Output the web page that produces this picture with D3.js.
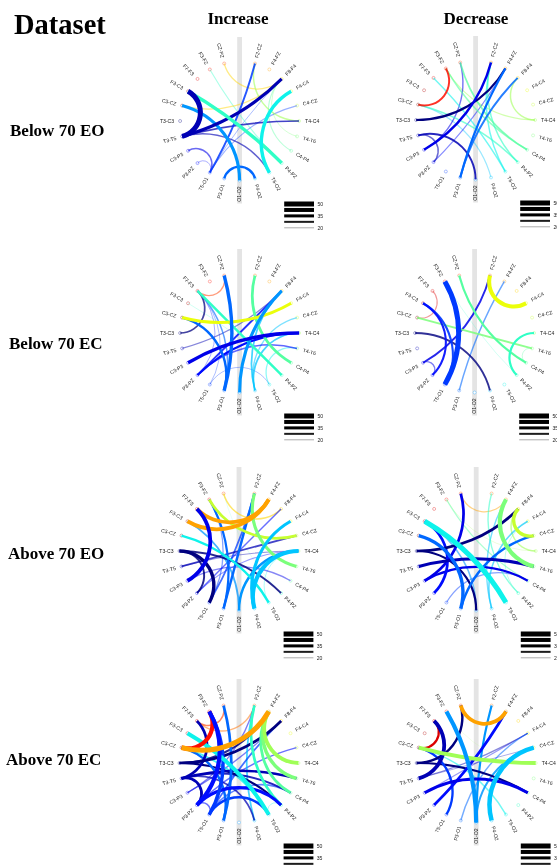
<!DOCTYPE html>
<html><head><meta charset="utf-8">
<script src="https://cdn.jsdelivr.net/npm/d3@7/dist/d3.min.js"></script>
<style>html,body{margin:0;padding:0;background:#fff;overflow:hidden}svg{display:block;will-change:transform}</style>
</head><body>
<svg id="c" width="557" height="868"></svg>
<script>
// clockwise from just right of the top gap
const channels=["F2-CZ","F4-FZ","F8-F4","F4-C4","C4-CZ","T4-C4","T4-T6","C4-P4","P4-PZ","T6-O2","P4-O2","O1-O2","P3-O1","T5-O1","P3-PZ","C3-P3","T3-T5","T3-C3","C3-CZ","F3-C3","F7-F3","F3-FZ","CZ-PZ"];
const legendValues=[50,42.5,35,27.5,20];
const legendLabels=["50","","35","","20"];
const rowLabels=["Below 70 EO","Below 70 EC","Above 70 EO","Above 70 EC"];
const columnLabels=["Increase","Decrease"];

const below70EOIncrease=[["CZ-PZ","F8-F4",22],["C3-CZ","F8-F4",22],["F3-FZ","P4-PZ",21],["F3-C3","P4-PZ",38],["C3-CZ","O1-O2",36],["F3-C3","T3-T5",50],["T3-T5","F8-F4",36],["T3-T5","T4-C4",25.5],["T3-T5","T6-O2",24],["C3-P3","T5-O1",23.5],["P3-PZ","T5-O1",20],["F2-CZ","T5-O1",27],["T5-O1","F8-F4",20],["T5-O1","C4-CZ",21],["P3-O1","P4-O2",30],["T6-O2","F4-C4",38],["F2-CZ","T4-C4",23.5],["F8-F4","C4-P4",21],["F8-F4","T4-T6",20]];
const below70EODecrease=[["F3-FZ","C3-CZ",27],["CZ-PZ","C3-P3",23],["CZ-PZ","C4-P4",25.5],["F3-FZ","C4-P4",24],["F3-FZ","T4-C4",22],["F7-F3","T6-O2",23.5],["C3-CZ","P4-PZ",24],["F2-CZ","P4-PZ",24],["F2-CZ","T6-O2",23.5],["F2-CZ","C3-P3",31],["F4-FZ","T3-C3",29],["F4-FZ","P3-PZ",22],["F4-FZ","P3-O1",29],["F8-F4","T4-C4",23.5],["F8-F4","P3-O1",27],["T3-T5","O1-O2",27],["T3-T5","P3-PZ",23.5],["C3-CZ","P4-O2",21]];
const below70ECIncrease=[["F7-F3","CZ-PZ",22.5],["CZ-PZ","P3-O1",38],["F2-CZ","C4-P4",33],["F3-C3","P4-PZ",19],["C3-CZ","F4-C4",36],["F7-F3","T3-C3",25.5],["F7-F3","P4-PZ",31],["F7-F3","P3-O1",24],["F7-F3","T5-O1",20],["F7-F3","P3-PZ",20],["C3-CZ","P3-O1",31],["T3-T5","F8-F4",22],["F8-F4","P3-PZ",27],["F8-F4","O1-O2",36],["F8-F4","P4-O2",25.5],["C4-CZ","P4-O2",22.5],["T4-C4","C3-P3",38],["T4-C4","P3-PZ",29],["T4-C4","P4-O2",25.5],["T4-T6","P3-PZ",24],["T4-T6","T6-O2",22],["T5-O1","T6-O2",20]];
const below70ECDecrease=[["F7-F3","C3-CZ",21],["F3-C3","T5-O1",28],["F3-FZ","T5-O1",50],["CZ-PZ","C4-P4",29],["F2-CZ","F4-C4",43],["F2-CZ","C3-P3",27],["F4-FZ","P3-O1",23.5],["C3-CZ","T4-T6",27],["F3-FZ","P4-PZ",19],["T4-C4","P4-PZ",29],["T4-T6","C4-P4",20],["T3-C3","P4-O2",26.5],["P3-PZ","C3-P3",22.5],["F3-C3","P3-PZ",28]];
const above70EOIncrease=[["CZ-PZ","F8-F4",23.5],["F7-F3","F4-FZ",41],["F3-C3","F4-FZ",41],["F3-FZ","C4-CZ",33],["F2-CZ","T4-T6",36],["F2-CZ","P3-O1",31],["F2-CZ","T5-O1",25.5],["F4-C4","P4-O2",36],["T4-C4","P4-O2",44],["T4-C4","O1-O2",31],["T4-C4","T6-O2",20],["F8-F4","P3-PZ",23.5],["C4-CZ","T3-T5",25.5],["T4-C4","T3-T5",21],["F7-F3","C3-P3",41],["T3-C3","T5-O1",38],["T3-C3","P4-PZ",27],["T3-C3","P3-PZ",27],["C3-CZ","T6-O2",31],["F3-FZ","P3-O1",29],["F3-C3","O1-O2",25.5],["P3-PZ","T4-C4",21],["C3-P3","C4-P4",22],["F3-FZ","T5-O1",22],["CZ-PZ","P4-PZ",18]];
const above70EODecrease=[["CZ-PZ","F4-FZ",22],["CZ-PZ","C3-P3",33],["F3-FZ","C4-P4",22],["F3-C3","T6-O2",50],["F3-C3","P3-PZ",33],["C3-CZ","P3-O1",38],["T3-C3","F8-F4",33],["T3-C3","O1-O2",29],["T3-T5","T4-T6",36],["C3-P3","C4-P4",29],["F8-F4","C4-CZ",38],["F8-F4","T4-C4",23.5],["F4-FZ","T4-T6",44],["F4-FZ","P4-O2",23],["F2-CZ","P4-PZ",23],["C4-CZ","P3-O1",31],["F4-C4","P4-O2",24],["F3-C3","O1-O2",23.5],["T5-O1","C4-P4",22],["F4-C4","P4-PZ",20],["F3-FZ","T4-C4",19]];
const above70ECIncrease=[["C3-CZ","F3-FZ",44],["F7-F3","CZ-PZ",24],["C3-CZ","F4-FZ",50],["F7-F3","F2-CZ",22.5],["F3-C3","T6-O2",43],["C3-CZ","T6-O2",25.5],["F3-FZ","P3-PZ",44],["F3-FZ","T5-O1",38],["F7-F3","T3-T5",33],["CZ-PZ","P3-O1",33],["C3-CZ","P3-O1",31],["T3-C3","F8-F4",33],["T3-C3","F4-FZ",27],["T3-C3","P4-PZ",29],["T3-T5","T4-T6",31],["T3-T5","P3-PZ",33],["T3-T5","C4-P4",27],["F2-CZ","P4-PZ",33],["F2-CZ","C3-P3",22.5],["F2-CZ","P4-O2",25.5],["F4-FZ","T4-T6",38],["F4-FZ","C4-P4",33],["F4-FZ","T4-C4",41],["C4-CZ","P3-PZ",23.5],["F8-F4","T5-O1",25.5],["P3-PZ","P4-PZ",36],["T5-O1","T6-O2",31],["P3-PZ","T5-O1",23.5],["F8-F4","C3-P3",22.5],["P4-PZ","T6-O2",20],["C4-P4","T5-O1",24],["T3-T5","P4-O2",25.5]];
const above70ECDecrease=[["CZ-PZ","F4-FZ",41],["F7-F3","C3-CZ",29],["F7-F3","T3-T5",41],["CZ-PZ","T3-C3",31],["F3-FZ","O1-O2",44],["F2-CZ","O1-O2",29],["F4-FZ","P3-PZ",33],["C3-CZ","T4-C4",41],["C3-CZ","T5-O1",30],["C3-CZ","T6-O2",23.5],["T3-C3","C4-P4",29],["C3-P3","C4-P4",36],["C4-CZ","P4-O2",46],["F4-C4","C3-P3",21],["F4-C4","T3-T5",22],["F4-C4","P3-O1",23],["C4-CZ","O1-O2",27],["T3-T5","C4-CZ",20],["F3-FZ","T4-C4",18]];

const panels=[
 {links:below70EOIncrease,cx:239.6,cy:121},{links:below70EODecrease,cx:475.6,cy:120},
 {links:below70ECIncrease,cx:239.6,cy:333},{links:below70ECDecrease,cx:474.6,cy:333},
 {links:above70EOIncrease,cx:239,cy:551},{links:above70EODecrease,cx:476.2,cy:551},
 {links:above70ECIncrease,cx:239,cy:763},{links:above70ECDecrease,cx:476.2,cy:763}];

const jet=d3.scaleLinear()
 .domain([0,.11,.125,.34,.375,.64,.66,.865,.89,1])
 .range(["#00007f","#0000ff","#0000ff","#00dbff","#14ffe2","#eeff08","#ffec00","#ff0c00","#f00000","#7f0000"]);
const radius=59.5;
const angle=d3.scaleLinear().domain([0,22]).range([15,345]);
const rank=d3.scaleLinear().domain([0,22]).range([1,0]);
const colourRank=n=>(channels.indexOf(n)-channels.indexOf("C3-CZ")+channels.length)%channels.length;
const colourOf=n=>jet(rank(colourRank(n)));
const width=d3.scaleLinear().domain([20,50]).range([1,5]);
const alpha=d3.scaleLinear().domain([17,29]).range([.1,1]).clamp(true);

const svg=d3.select("#c");
const serif='"Liberation Serif","Times New Roman",serif', sans='"Liberation Sans",Arial,sans-serif';
svg.append("text").attr("x",14).attr("y",34).attr("font-family",serif).attr("font-weight","bold").attr("font-size",28.5).text("Dataset");
const colX=[238,476];
svg.selectAll(".col").data(columnLabels).join("text").attr("class","col").attr("x",(d,i)=>colX[i]).attr("y",24).attr("text-anchor","middle")
  .attr("font-family",serif).attr("font-weight","bold").attr("font-size",17).text(d=>d);
const rowX=[10,9,8,6],rowY=[136,349,559,765];
svg.selectAll(".row").data(rowLabels).join("text").attr("class","row").attr("x",(d,i)=>rowX[i]).attr("y",(d,i)=>rowY[i])
  .attr("font-family",serif).attr("font-weight","bold").attr("font-size",17).text(d=>d);

function pos(p,n,r){const a=angle(channels.indexOf(n))*Math.PI/180;return [p.cx+r*Math.sin(a),p.cy-r*Math.cos(a)];}
function linkPath(p,a,b){
  const A=pos(p,a,radius),B=pos(p,b,radius);
  let d=Math.abs(angle(channels.indexOf(a))-angle(channels.indexOf(b)));if(d>180)d=360-d;
  const path=d3.path();path.moveTo(A[0],A[1]);
  if(Math.abs(d-180)<1e-6)path.lineTo(B[0],B[1]);
  else path.arcTo(p.cx,p.cy,B[0],B[1],radius*Math.tan(d*Math.PI/360));
  path.lineTo(B[0],B[1]);
  return path.toString();
}
panels.forEach(p=>{
  const g=svg.append("g");
  g.append("rect").attr("x",p.cx-2.4).attr("y",p.cy-84).attr("width",4.8).attr("height",166.5).attr("fill","#e4e4e4");
  g.selectAll("circle").data(channels).join("circle")
    .attr("cx",d=>pos(p,d,radius)[0]).attr("cy",d=>pos(p,d,radius)[1]).attr("r",1.5)
    .attr("fill","#fff").attr("stroke",colourOf).attr("stroke-opacity",.6).attr("stroke-width",.55);
  const ordered=p.links.slice().sort((a,b)=>d3.ascending(a[2],b[2]));
  g.selectAll("path").data(ordered).join("path").attr("d",d=>linkPath(p,d[0],d[1])).attr("fill","none")
    .attr("stroke",d=>colourRank(d[0])>colourRank(d[1])?colourOf(d[0]):colourOf(d[1]))
    .attr("stroke-width",d=>Math.max(.6,width(d[2]))).attr("stroke-opacity",d=>alpha(d[2]));
  g.append("g").selectAll("text").data(channels).join("text").text(d=>d)
    .attr("font-family",sans).attr("font-size",5.1).attr("fill","#222").attr("dy","0.35em")
    .attr("text-anchor",d=>angle(channels.indexOf(d))<180?"start":"end")
    .attr("transform",d=>{const a=angle(channels.indexOf(d)),q=pos(p,d,radius+6);return `translate(${q[0]},${q[1]}) rotate(${a<180?a-90:a+90})`;});
  const lg=svg.append("g").attr("transform",`translate(${p.cx+44.6},${p.cy+83})`);
  const ly=d3.scalePoint().domain(legendValues).range([0,23.8]);
  lg.selectAll("rect").data(legendValues).join("rect").attr("x",0).attr("width",29.8)
    .attr("y",d=>ly(d)-width(d)/2).attr("height",d=>width(d)).attr("fill","#000").attr("fill-opacity",d=>alpha(d));
  lg.append("g").selectAll("text").data(legendValues.filter(d=>p.cy+83+ly(d)<868)).join("text").attr("x",33.2).attr("y",d=>ly(d)).attr("dy","0.35em")
    .attr("font-family",sans).attr("font-size",5.1).attr("fill","#222").text(d=>legendLabels[legendValues.indexOf(d)]);
});
</script>
</body></html>
